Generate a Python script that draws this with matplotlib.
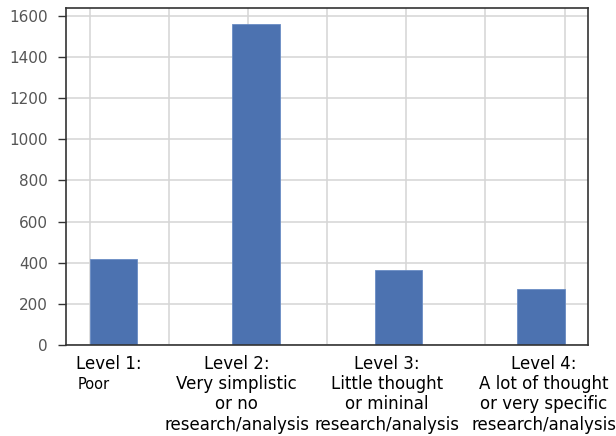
import numpy as np
import matplotlib
matplotlib.use("Agg")
import matplotlib.pyplot as plt

plt.rcParams["font.family"] = ["DejaVu Sans"]

# rating level -> number of answers
levels = [1, 2, 3, 4]
counts = [418, 1561, 362, 272]

level_heads = ["Level 1:", "Level 2:", "Level 3:", "Level 4:"]
level_texts = ["Poor",
               "Very simplistic\nor no\nresearch/analysis",
               "Little thought\nor mininal\nresearch/analysis",
               "A lot of thought\nor very specific\nresearch/analysis"]
label_x = [1.12, 1.93, 2.88, 3.87]

fig = plt.figure(figsize=(6.16, 4.36), dpi=100)
ax = fig.add_axes([0.107, 0.209, 0.848, 0.773])

ax.hist(levels, bins=10, weights=counts, color="#4c72b0", edgecolor="#6a8cc4",
        linewidth=0.6, zorder=2)

ax.set_yticks(np.arange(0, 1601, 200))
ax.set_xticks(np.arange(1.0, 4.01, 0.5))
ax.set_xticklabels([])
ax.tick_params(axis="x", length=0)
ax.tick_params(axis="y", length=6, width=1, color="#333333", labelsize=11,
               labelcolor="#555555", pad=7)
ax.grid(True, color="#d5d5d5", linewidth=1.1, zorder=0)
ax.set_axisbelow(True)
for sp in ax.spines.values():
    sp.set_color("#333333")
    sp.set_linewidth(1.2)

for i, (x, head, txt) in enumerate(zip(label_x, level_heads, level_texts)):
    if i == 0:
        ax.annotate(head, xy=(x, 0), xycoords=("data", "axes fraction"),
                    xytext=(0, -7.5), textcoords="offset points",
                    ha="center", va="top", fontsize=12, color="black")
        ax.annotate(txt, xy=(x, 0), xycoords=("data", "axes fraction"),
                    xytext=(-22.5, -23), textcoords="offset points",
                    ha="left", va="top", fontsize=10.5, color="black")
    else:
        ax.annotate(head + "\n" + txt, xy=(x, 0), xycoords=("data", "axes fraction"),
                    xytext=(0, -7.5), textcoords="offset points",
                    ha="center", va="top", fontsize=12, color="black",
                    linespacing=1.15)

fig.savefig("out.png", dpi=100)
